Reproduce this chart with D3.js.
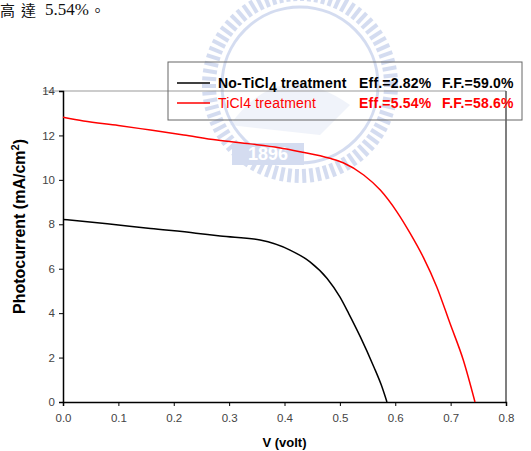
<!DOCTYPE html>
<html>
<head>
<meta charset="utf-8">
<script src="https://cdn.jsdelivr.net/npm/d3@7"></script>
<style>
  body { margin: 0; background: #fff; }
  svg { display: block; }
  text { font-family: "Liberation Sans", Arial, sans-serif; }
</style>
</head>
<body>
<div id="chart"></div>
<script>
// Black curve: No-TiCl4 treatment
const vBlack = [0, 0.08, 0.158, 0.24, 0.284, 0.356, 0.41, 0.446, 0.477, 0.5, 0.516, 0.537, 0.561, 0.575, 0.585];
const iBlack = [8.22, 8.02, 7.81, 7.6, 7.47, 7.29, 6.84, 6.31, 5.56, 4.73, 3.98, 2.93, 1.6, 0.75, 0];

// Red curve: TiCl4 treatment
const vRed = [0, 0.037, 0.1, 0.158, 0.218, 0.278, 0.338, 0.39, 0.428, 0.482, 0.506, 0.543, 0.573, 0.603, 0.627, 0.651, 0.675, 0.699, 0.723, 0.744];
const iRed = [12.82, 12.65, 12.45, 12.24, 12.02, 11.79, 11.62, 11.45, 11.27, 10.97, 10.77, 10.22, 9.54, 8.56, 7.59, 6.5, 5.18, 3.53, 1.88, 0];

const xTicks = [0, 0.1, 0.2, 0.3, 0.4, 0.5, 0.6, 0.7, 0.8];
const yTicks = [0, 2, 4, 6, 8, 10, 12, 14];

const legendRows = [
  { name: "No-TiCl", sub: "4", rest: " treatment", eff: "Eff.=2.82%", ff: "F.F.=59.0%", color: "#000", bold: true },
  { name: "TiCl4 treatment", sub: "", rest: "", eff: "Eff.=5.54%", ff: "F.F.=58.6%", color: "#ff0000", bold: false }
];

const W = 531, H = 451;
const margin = { top: 91, right: 25, bottom: 49, left: 63 },
      width = W - margin.left - margin.right,
      height = H - margin.top - margin.bottom;

const svg = d3.select("#chart").append("svg")
    .attr("width", W)
    .attr("height", H);

// header text from the document above the figure
const head = svg.append("g").attr("fill", "#111");
head.append("text").attr("x", 0).attr("y", 16).style("font-family", "Noto Sans CJK TC").style("font-size", "15px").text("高");
head.append("text").attr("x", 21).attr("y", 16).style("font-family", "Noto Sans CJK TC").style("font-size", "15px").text("達");
head.append("text").attr("x", 45).attr("y", 15).style("font-family", "Liberation Serif").style("font-size", "17px").text("5.54%");
head.append("text").attr("x", 90).attr("y", 16).style("font-family", "Noto Sans CJK TC").style("font-size", "15px").text("。");

// watermark (faint university seal)
const wm = svg.append("g").attr("opacity", 0.33);
const cx = 300, cy = 85;
d3.range(0, 360, 4.6).forEach(a => {
  const r = a * Math.PI / 180;
  wm.append("line")
    .attr("x1", cx + 84 * Math.cos(r)).attr("y1", cy + 84 * Math.sin(r))
    .attr("x2", cx + 98 * Math.cos(r)).attr("y2", cy + 98 * Math.sin(r))
    .attr("stroke", "#7f98d4").attr("stroke-width", 4);
});
wm.append("circle").attr("cx", cx).attr("cy", cy).attr("r", 78)
  .attr("fill", "none").attr("stroke", "#7f98d4").attr("stroke-width", 3);
wm.append("path")
  .attr("d", `M${cx - 70},${cy + 40} Q${cx - 20},${cy - 30} ${cx + 50},${cy + 20} L${cx + 20},${cy + 50} Z`)
  .attr("fill", "#7f98d4").attr("opacity", 0.35);
wm.append("rect").attr("x", 232).attr("y", 143).attr("width", 72).attr("height", 22).attr("fill", "#7f98d4");
wm.append("text").attr("x", 268).attr("y", 160).attr("text-anchor", "middle")
  .attr("fill", "#fff").style("font-size", "18px").style("font-weight", "bold").text("1896");

const g = svg.append("g").attr("transform", `translate(${margin.left},${margin.top})`);

const x = d3.scaleLinear().domain([0, 0.8]).range([0, width]);
const y = d3.scaleLinear().domain([0, 14]).range([height, 0]);

// frame: top light gray, right dark gray
g.append("line").attr("x1", -20).attr("x2", width).attr("y1", 0).attr("y2", 0)
  .attr("stroke", "#999").attr("stroke-width", 1.2);
g.append("line").attr("x1", width).attr("x2", width).attr("y1", 0).attr("y2", height)
  .attr("stroke", "#555").attr("stroke-width", 1.5);

const xAxis = g.append("g")
    .attr("transform", `translate(0,${height})`)
    .call(d3.axisBottom(x).tickValues(xTicks).tickFormat(d3.format(".1f")).tickSize(4).tickPadding(8));
const yAxis = g.append("g")
    .call(d3.axisLeft(y).tickValues(yTicks).tickSize(4).tickPadding(4));

[xAxis, yAxis].forEach(a => {
  a.select(".domain").attr("stroke", "#000").attr("stroke-width", 1.5);
  a.selectAll(".tick line").attr("stroke", "#000");
  a.selectAll(".tick text").attr("fill", "#444").style("font-size", "11.5px").style("font-family", "Liberation Sans");
});

const line = d3.line().x(d => x(d[0])).y(d => y(d[1])).curve(d3.curveMonotoneX);

g.append("path")
  .datum(vBlack.map((v, i) => [v, iBlack[i]]))
  .attr("d", line).attr("fill", "none").attr("stroke", "#000").attr("stroke-width", 1.5);
g.append("path")
  .datum(vRed.map((v, i) => [v, iRed[i]]))
  .attr("d", line).attr("fill", "none").attr("stroke", "#ff0000").attr("stroke-width", 1.5);

// axis titles
svg.append("text")
  .attr("transform", `translate(25,${margin.top + height / 2 - 20}) rotate(-90)`)
  .attr("text-anchor", "middle")
  .style("font-size", "16px").style("font-weight", "bold")
  .html('Photocurrent (mA/cm<tspan dy="-6" font-size="11px">2</tspan><tspan dy="6">)</tspan>');

svg.append("text")
  .attr("x", margin.left + width / 2).attr("y", 447)
  .attr("text-anchor", "middle")
  .style("font-size", "13px").style("font-weight", "bold")
  .text("V (volt)");

// legend
const lg = svg.append("g");
lg.append("rect").attr("x", 168).attr("y", 62).attr("width", 354).attr("height", 58)
  .attr("fill", "none").attr("stroke", "#666").attr("stroke-width", 1);

legendRows.forEach((d, i) => {
  const ly = 83 + i * 20;
  lg.append("line").attr("x1", 177).attr("x2", 210).attr("y1", ly).attr("y2", ly)
    .attr("stroke", d.color).attr("stroke-width", 1.5);
  const t = lg.append("text").attr("x", 218).attr("y", ly + 5)
    .attr("fill", d.color).style("font-size", "14px").style("letter-spacing", "0.2px")
    .style("font-weight", d.bold ? "bold" : "normal");
  t.append("tspan").text(d.name);
  if (d.sub) {
    t.append("tspan").attr("dy", 4).text(d.sub);
    t.append("tspan").attr("dy", -4).text(d.rest);
  }
  lg.append("text").attr("x", 359).attr("y", ly + 5).attr("fill", d.color)
    .style("font-size", "14px").style("letter-spacing", "0.2px").style("font-weight", "bold").text(d.eff);
  lg.append("text").attr("x", 442).attr("y", ly + 5).attr("fill", d.color)
    .style("font-size", "14px").style("letter-spacing", "0.2px").style("font-weight", "bold").text(d.ff);
});
</script>
</body>
</html>
